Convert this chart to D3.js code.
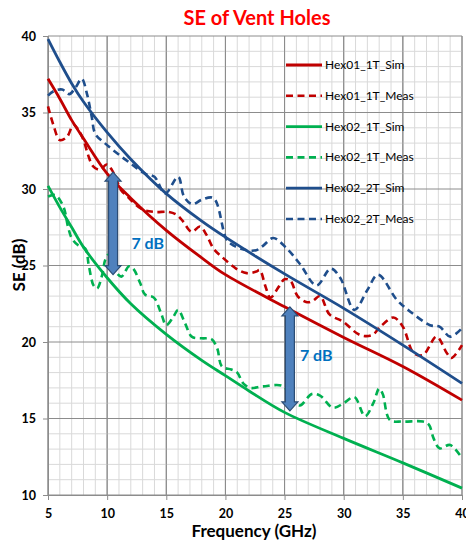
<!DOCTYPE html>
<html><head><meta charset="utf-8">
<script src="https://cdn.jsdelivr.net/npm/d3@7"></script>
<style>body{margin:0;background:#fff;} text{font-family:Lato,"Open Sans",sans-serif;}</style>
</head><body><svg id="c" width="466" height="543"></svg>
<script>
const chartTitle = "SE of Vent Holes";
const xLabel = "Frequency (GHz)";
const yLabel = "SE (dB)";
const xTicks = [5,10,15,20,25,30,35,40];
const yTicks = [10,15,20,25,30,35,40];
const seriesNames = ["Hex01_1T_Sim","Hex01_1T_Meas","Hex02_1T_Sim","Hex02_1T_Meas","Hex02_2T_Sim","Hex02_2T_Meas"];

const hex01Sim = [[5,37.2],[6,35.9],[7,34.5],[8,33.3],[10,31.0],[12,29.4],[15,27.3],[18,25.5],[20,24.4],[25,22.3],[30,20.3],[35,18.4],[40,16.2]];
const hex01Meas = [[5,35.4],[5.45,34.2],[6,33.2],[6.6,33.4],[7.15,34.2],[7.55,33.9],[8,33.2],[8.4,32.2],[8.8,31.5],[9.4,31.25],[9.95,31.6],[10.4,31.25],[11.2,29.9],[11.6,29.6],[12.9,28.7],[14,28.5],[15.2,28.5],[15.9,28.3],[16.4,27.9],[17.15,27.2],[17.85,27.55],[18.4,27.0],[19,26.1],[19.8,25.5],[20.9,24.8],[21.8,24.5],[22.6,24.6],[22.9,24.7],[23.4,23.6],[23.8,22.9],[24.5,23.6],[25,24.1],[25.5,24.0],[26.1,23.0],[26.9,22.6],[27.4,22.7],[28,23.0],[28.8,21.8],[29.9,21.35],[31.4,20.45],[32.4,20.45],[33.1,21.0],[34.2,21.6],[35,21.0],[35.9,19.3],[36.7,19.15],[37.85,20.35],[38.7,19.3],[39.1,18.95],[40,19.8]];
const hex02Sim1T = [[5,30.2],[6,28.8],[7,27.5],[8,26.2],[10,24.2],[12,22.5],[15,20.5],[18,18.8],[20,17.8],[22,16.8],[25,15.4],[30,13.7],[35,12.1],[40,10.45]];
const hex02Meas1T = [[5,29.5],[5.6,29.6],[6.3,28.85],[6.7,27.5],[7,26.8],[7.5,26.35],[8.15,26.1],[8.45,25.0],[8.85,23.7],[9.15,23.5],[9.55,24.3],[9.85,25.4],[10.1,25.7],[10.65,24.7],[11.2,24.27],[11.85,24.95],[12.2,24.8],[12.8,23.84],[13.2,23.1],[13.95,22.9],[14.55,21.9],[15,21.1],[15.6,21.65],[16,22.1],[16.6,21.2],[17.15,20.35],[18,20.24],[18.8,20.2],[19.3,19.6],[19.7,18.4],[20.5,18.2],[21,18.0],[21.5,17.3],[22.1,17.0],[23.2,17.1],[24.9,17.1],[25.7,16.1],[26.3,15.85],[27.3,16.6],[28,16.5],[29.1,15.7],[30,16.0],[30.9,16.4],[31.8,15.15],[32.5,16.0],[33,16.95],[33.3,16.6],[33.9,14.9],[35,14.8],[36.7,14.8],[37.2,14.6],[37.6,13.7],[38.1,13.05],[39,13.27],[40,12.4]];
const hex02Sim2T = [[5,39.8],[6,38.3],[7,36.9],[8,35.7],[10,33.7],[12,31.95],[15,29.7],[18,27.9],[20,26.85],[25,24.45],[30,22.2],[35,19.8],[40,17.3]];
const hex02Meas2T = [[5,36.1],[5.5,36.4],[6.2,36.5],[6.8,36.2],[7.3,36.6],[7.85,37.2],[8.3,36.2],[8.7,34.7],[9,33.6],[9.8,33.0],[10.9,32.3],[12.1,31.6],[13.2,31.0],[14,30.8],[14.9,29.7],[16,30.8],[16.5,29.5],[17.2,29.0],[18,29.3],[19,29.4],[20.1,26.7],[20.7,26.3],[21.8,26.0],[22.6,26.0],[23.2,26.3],[24.05,26.8],[25.2,26.1],[26.3,25.1],[27.7,23.7],[28.9,24.8],[29.7,24.2],[30.9,22.1],[32,23.4],[32.9,24.4],[34.5,22.75],[35.6,22.0],[37.3,21.1],[38.1,21.0],[39,20.35],[40,20.9]];

// gap arrows: [frequency, lower dB, upper dB]
const gapArrows = [[10.5,24.4,31.1],[25.45,15.5,22.3]];
const gapLabels = ["7 dB","7 dB"];
const gapLabelAt = [[12.05,26.1],[26.3,18.75]];

const seriesData = [hex01Sim,hex01Meas,hex02Sim1T,hex02Meas1T,hex02Sim2T,hex02Meas2T];
const seriesColor = ["#c00000","#c00000","#00b050","#00b050","#1f4e8c","#1f4e8c"];
const seriesDashed = [false,true,false,true,false,true];

const svg = d3.select("#c");
const x = d3.scaleLinear().domain([5,40]).range([48,462]);
const y = d3.scaleLinear().domain([10,40]).range([495,36]);

// grid
const g = svg.append("g");
g.selectAll(".vx").data(d3.range(5,41,1)).join("line")
  .attr("x1",d=>x(d)).attr("x2",d=>x(d)).attr("y1",y(10)).attr("y2",y(40))
  .attr("stroke",d=>d%5===0?"#8c8c8c":"#d9d9d9").attr("stroke-width",1);
g.selectAll(".hy").data(d3.range(10,41,1)).join("line")
  .attr("y1",d=>y(d)).attr("y2",d=>y(d)).attr("x1",x(5)).attr("x2",x(40))
  .attr("stroke",d=>d%5===0?"#8c8c8c":"#d9d9d9").attr("stroke-width",1);
g.selectAll(".vxm").data(d3.range(5,41,5)).join("line")
  .attr("x1",d=>x(d)).attr("x2",d=>x(d)).attr("y1",y(10)).attr("y2",y(40))
  .attr("stroke","#8c8c8c");

// axes
const xa = svg.append("g").attr("transform",`translate(0,${y(10)})`)
  .call(d3.axisBottom(x).tickValues(xTicks).tickSize(5).tickPadding(9).tickFormat(d3.format("d")));
const ya = svg.append("g").attr("transform",`translate(${x(5)},0)`)
  .call(d3.axisLeft(y).tickValues(yTicks).tickSize(5).tickPadding(7).tickFormat(d3.format("d")));
[xa,ya].forEach(a=>{
  a.select(".domain").attr("stroke","#8c8c8c");
  a.selectAll(".tick line").attr("stroke","#8c8c8c");
  a.selectAll(".tick text").attr("font-size",12.5).attr("font-weight","bold").attr("fill","#000")
   .attr("font-family","Lato, 'Open Sans', sans-serif");
});

// lines
const line = d3.line().x(d=>x(d[0])).y(d=>y(d[1])).curve(d3.curveCatmullRom.alpha(0.5));
seriesData.forEach((s,i)=>{
  svg.append("path").datum(s).attr("d",line).attr("fill","none")
    .attr("stroke",seriesColor[i]).attr("stroke-width",seriesDashed[i]?2.6:2.8)
    .attr("stroke-dasharray",seriesDashed[i]?"7,4.5":null)
    .attr("stroke-linecap","butt");
});

// arrows
gapArrows.forEach((a,i)=>{
  const cx = x(a[0]), yt = y(a[2]), yb = y(a[1]);
  const hh = 8, sh = 4.5, hl = 9;
  const pts = [[cx,yt],[cx+hh,yt+hl],[cx+sh,yt+hl],[cx+sh,yb-hl],[cx+hh,yb-hl],[cx,yb],
    [cx-hh,yb-hl],[cx-sh,yb-hl],[cx-sh,yt+hl],[cx-hh,yt+hl]];
  svg.append("path").attr("d","M"+pts.map(p=>p.join(",")).join("L")+"Z")
    .attr("fill","#4f81bd").attr("stroke","#2c4d75").attr("stroke-width",1.2);
  svg.append("text").attr("x",x(gapLabelAt[i][0])).attr("y",y(gapLabelAt[i][1]))
    .attr("font-size",16).attr("font-weight","bold").attr("fill","#0070c0").text(gapLabels[i]);
});

// legend
seriesNames.forEach((n,i)=>{
  const ly = 65 + i*30.8;
  svg.append("line").attr("x1",286).attr("x2",322).attr("y1",ly).attr("y2",ly)
    .attr("stroke",seriesColor[i]).attr("stroke-width",seriesDashed[i]?2.6:2.8)
    .attr("stroke-dasharray",seriesDashed[i]?"7,4.5":null);
  svg.append("text").attr("x",325).attr("y",ly+4).attr("font-size",12).attr("fill","#000").text(n);
});

// titles
svg.append("text").attr("x",257).attr("y",25).attr("text-anchor","middle")
  .attr("font-size",20).attr("font-weight","bold").attr("fill","#ff0000").text(chartTitle);
svg.append("text").attr("x",254).attr("y",537).attr("text-anchor","middle")
  .attr("font-size",17).attr("font-weight","bold").attr("fill","#000").text(xLabel);
svg.append("text").attr("transform",`translate(25,265) rotate(-90)`).attr("text-anchor","middle")
  .attr("font-size",17).attr("font-weight","bold").attr("fill","#000").text(yLabel);
</script></body></html>
